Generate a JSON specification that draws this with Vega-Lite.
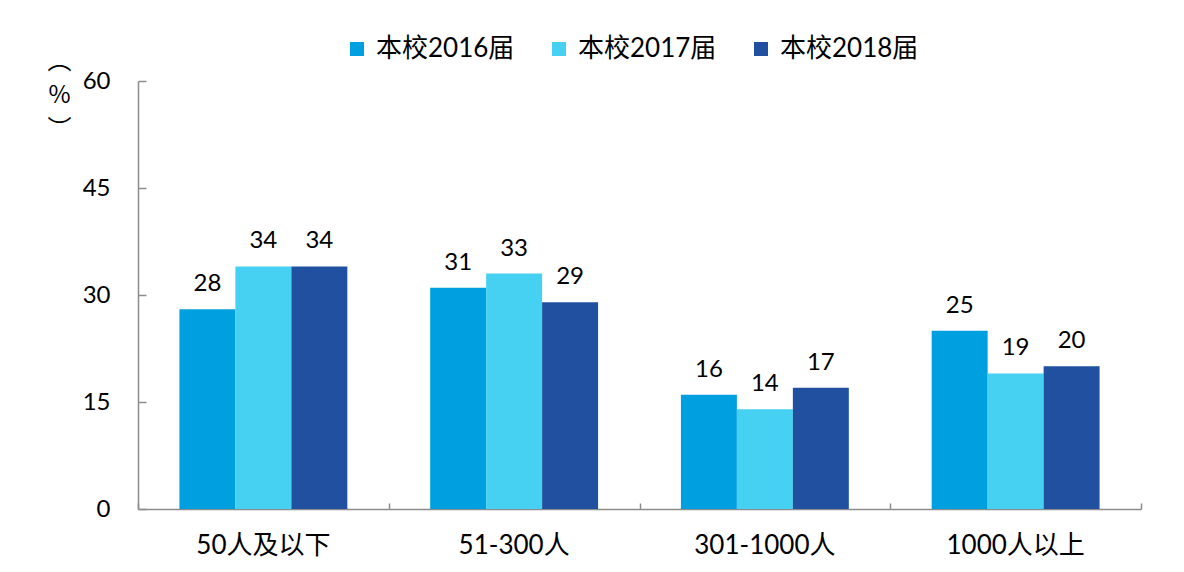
{
  "$schema": "https://vega.github.io/schema/vega-lite/v6.json",
  "autosize": "none",
  "width": 1003,
  "height": 428,
  "padding": {"left": 138, "top": 81, "right": 43, "bottom": 63},
  "background": "white",
  "config": {
    "view": {"stroke": null},
    "font": "Lato, 'Noto Sans CJK SC'"
  },
  "data": {
    "values": [
      {"cat": "50人及以下", "series": "本校2016届", "value": 28},
      {"cat": "50人及以下", "series": "本校2017届", "value": 34},
      {"cat": "50人及以下", "series": "本校2018届", "value": 34},
      {"cat": "51-300人", "series": "本校2016届", "value": 31},
      {"cat": "51-300人", "series": "本校2017届", "value": 33},
      {"cat": "51-300人", "series": "本校2018届", "value": 29},
      {"cat": "301-1000人", "series": "本校2016届", "value": 16},
      {"cat": "301-1000人", "series": "本校2017届", "value": 14},
      {"cat": "301-1000人", "series": "本校2018届", "value": 17},
      {"cat": "1000人以上", "series": "本校2016届", "value": 25},
      {"cat": "1000人以上", "series": "本校2017届", "value": 19},
      {"cat": "1000人以上", "series": "本校2018届", "value": 20}
    ]
  },
  "resolve": {"axis": {"x": "independent", "y": "independent"}},
  "layer": [
    {
      "mark": {"type": "bar"},
      "encoding": {
        "x": {
          "field": "cat", "type": "nominal", "sort": null,
          "scale": {"paddingInner": 0, "paddingOuter": 0},
          "axis": {
            "title": null, "labelAngle": 0, "ticks": false, "tickSize": 0,
            "domainColor": "#8c8c8c", "domainWidth": 1.5,
            "labelFontSize": 26, "labelColor": "#000000", "labelPadding": 23,
            "labelFont": "Lato, 'Noto Sans CJK SC'"
          }
        },
        "xOffset": {
          "field": "series", "type": "nominal",
          "scale": {"paddingInner": 0, "paddingOuter": 0.74}
        },
        "y": {
          "field": "value", "type": "quantitative",
          "scale": {"domain": [0, 60], "nice": false},
          "axis": {
            "values": [0, 15, 30, 45, 60], "grid": false,
            "ticks": false, "tickSize": 0,
            "domainColor": "#8c8c8c", "domainWidth": 1.5,
            "labelFontSize": 24, "labelColor": "#000000", "labelPadding": 28,
            "title": ["︵", "%", "︶"], "titleAngle": 0, "titleAlign": "center",
            "titleBaseline": "top", "titleX": -79, "titleY": -32,
            "titleFontSize": 24, "titleFontWeight": "normal", "titleLineHeight": 34,
            "titleFont": "Noto Sans CJK SC", "titleColor": "#000000"
          }
        },
        "color": {
          "field": "series", "type": "nominal",
          "scale": {"range": ["#009FE0", "#46D0F2", "#2150A0"]},
          "legend": {
            "title": null, "orient": "none", "direction": "horizontal",
            "legendX": 206, "legendY": -45,
            "symbolType": "square", "symbolSize": 196, "symbolStrokeWidth": 0,
            "labelOffset": 6,
            "labelFontSize": 26, "labelColor": "#000000", "columnPadding": 31,
            "labelFont": "Lato, 'Noto Sans CJK SC'"
          }
        }
      }
    },
    {
      "mark": {"type": "text", "baseline": "alphabetic", "dy": -18, "fontSize": 24, "color": "#000000"},
      "encoding": {
        "x": {
          "field": "cat", "type": "nominal", "sort": null,
          "scale": {"paddingInner": 0, "paddingOuter": 0},
          "axis": {
            "orient": "top", "offset": -428, "title": null,
            "labels": false, "domain": false, "tickBand": "extent",
            "tickSize": 6, "tickColor": "#8c8c8c", "tickWidth": 1.5
          }
        },
        "xOffset": {
          "field": "series", "type": "nominal",
          "scale": {"paddingInner": 0, "paddingOuter": 0.74}
        },
        "y": {
          "field": "value", "type": "quantitative",
          "scale": {"domain": [0, 60], "nice": false},
          "axis": {
            "orient": "right", "offset": -1003, "title": null,
            "values": [0, 15, 30, 45, 60], "grid": false,
            "labels": false, "domain": false,
            "tickSize": 8, "tickColor": "#8c8c8c", "tickWidth": 1.5
          }
        },
        "text": {"field": "value", "type": "quantitative"}
      }
    }
  ]
}
